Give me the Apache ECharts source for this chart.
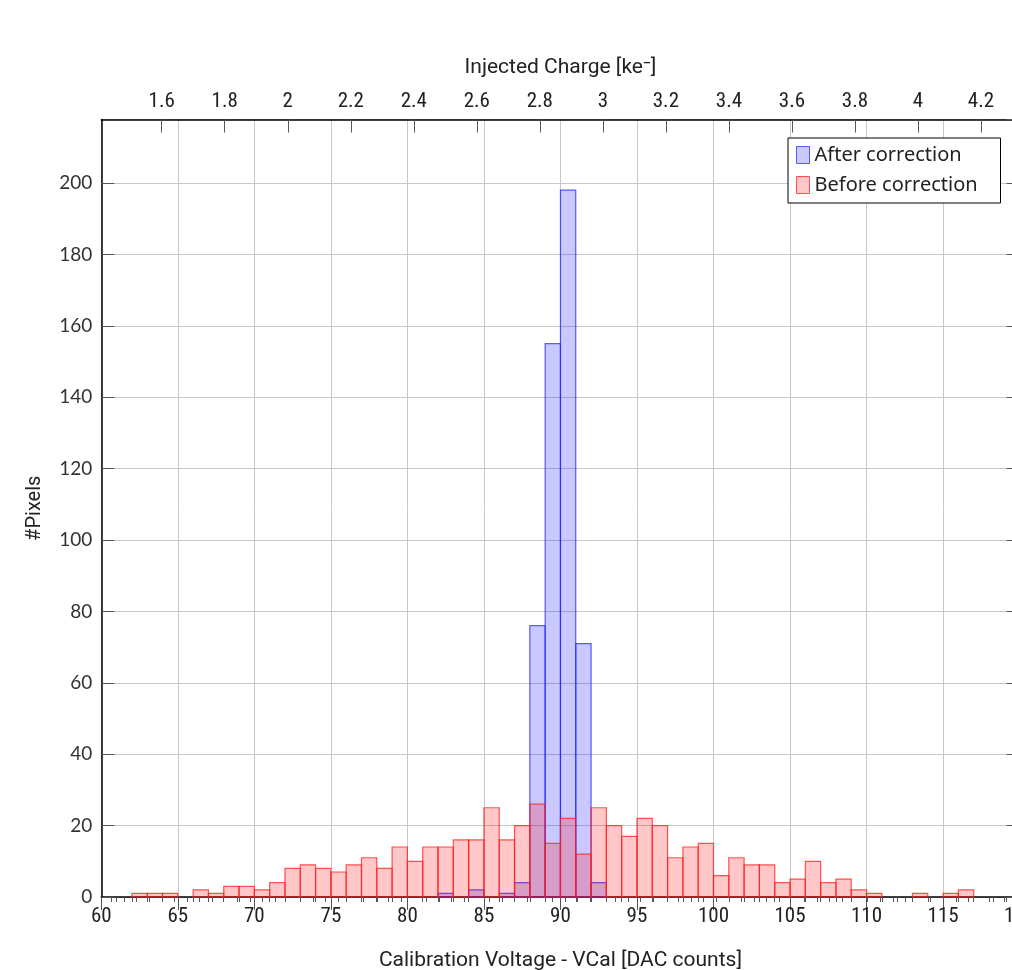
<!DOCTYPE html>
<html>
<head>
<meta charset="utf-8">
<script src="https://cdn.jsdelivr.net/npm/echarts@6/dist/echarts.min.js"></script>
<style>
html,body{margin:0;padding:0;background:#fff;}
#chart{width:1012px;height:970px;}
</style>
</head>
<body>
<div id="chart"></div>
<script>
// ---- data ----
// lower edges of 1-DAC wide bins
const binEdges = [];
for (let v = 60; v < 120; v++) binEdges.push(v);
// counts per bin, bins 60..119
const beforeCounts = [
  0, 0, 1, 1, 1, 0, 2, 1, 3, 3,
  2, 4, 8, 9, 8, 7, 9, 11, 8, 14,
  10, 14, 14, 16, 16, 25, 16, 20, 26, 15,
  22, 12, 25, 20, 17, 22, 20, 11, 14, 15,
  6, 11, 9, 9, 4, 5, 10, 4, 5, 2,
  1, 0, 0, 1, 0, 1, 2, 0, 0, 0
];
const afterCounts = [
  0, 0, 0, 0, 0, 0, 0, 0, 0, 0,
  0, 0, 0, 0, 0, 0, 0, 0, 0, 0,
  0, 0, 1, 0, 2, 0, 1, 4, 76, 155,
  198, 71, 4, 0, 0, 0, 0, 0, 0, 0,
  0, 0, 0, 0, 0, 0, 0, 0, 0, 0,
  0, 0, 0, 0, 0, 0, 0, 0, 0, 0
];
const binWidth = 1;
const vcalRange = [60, 120];
const yRange = [0, 217.8];
// top axis: injected charge, linear in VCal
const chargeRange = [1.4083, 4.3225];
const topTickLabels = [1.6, 1.8, 2, 2.2, 2.4, 2.6, 2.8, 3, 3.2, 3.4, 3.6, 3.8, 4, 4.2];
const seriesNames = ['After correction', 'Before correction'];

// ---- build ----
function toData(counts) {
  const out = [];
  counts.forEach((c, i) => { if (c > 0) out.push([binEdges[i], binEdges[i] + binWidth, c]); });
  return out;
}
const minorTop = [];
for (let k = Math.ceil(chargeRange[0] / 0.04); k * 0.04 < chargeRange[1]; k++) {
  const v = Math.round(k * 4) / 100;
  if (Math.abs(v * 5 - Math.round(v * 5)) > 1e-6) minorTop.push(v);
}

const blueFill = 'rgba(0,0,255,0.21)';
const blueLine = 'rgba(40,40,255,0.75)';
const redFill = 'rgba(255,0,0,0.22)';
const redLine = 'rgba(255,30,30,0.75)';

function makeRender(fill, stroke) {
  return function (params, api) {
    const p0 = api.coord([api.value(0), api.value(2)]);
    const p1 = api.coord([api.value(1), 0]);
    return {
      type: 'rect',
      shape: { x: p0[0], y: p0[1], width: p1[0] - p0[0], height: p1[1] - p0[1] },
      style: { fill: fill, stroke: stroke, lineWidth: 1.2 }
    };
  };
}

const tickFont = "'Liberation Sans Narrow', 'Roboto Condensed', Roboto, sans-serif";
const nameFont = "Roboto, sans-serif";
const chart = echarts.init(document.getElementById('chart'), null, { renderer: 'canvas' });
chart.setOption({
  animation: false,
  backgroundColor: '#fff',
  grid: { left: 101.3, top: 119.5, width: 918.3, height: 777.5, containLabel: false, outerBoundsMode: 'none' },
  legend: {
    left: 788, top: 138,
    orient: 'vertical',
    backgroundColor: '#fff',
    borderColor: '#000', borderWidth: 1,
    padding: [7, 11, 8, 8],
    itemGap: 10,
    itemWidth: 13, itemHeight: 17,
    textStyle: { fontFamily: "'Noto Sans', sans-serif", fontSize: 20, color: '#222', lineHeight: 20, width: 175 },
    data: [
      { name: seriesNames[0], icon: 'rect', itemStyle: { color: blueFill, borderColor: blueLine, borderWidth: 1 } },
      { name: seriesNames[1], icon: 'rect', itemStyle: { color: redFill, borderColor: redLine, borderWidth: 1 } }
    ],
    z: 20
  },
  xAxis: [
    {
      type: 'value', position: 'bottom', min: vcalRange[0], max: vcalRange[1], interval: 5,
      name: 'Calibration Voltage - VCal [DAC counts]', nameLocation: 'middle', nameGap: 53,
      nameTextStyle: { fontFamily: nameFont, fontSize: 21, color: '#222' },
      axisLine: { show: true, onZero: false, lineStyle: { color: '#000', width: 1.5 } },
      axisTick: { show: true, inside: false, length: 13, lineStyle: { color: '#555' } },
      minorTick: { show: true, splitNumber: 5, length: 5, lineStyle: { color: '#555' } },
      axisLabel: { fontFamily: tickFont, fontSize: 21, color: '#222', margin: 9 },
      splitLine: { show: true, lineStyle: { color: '#c8c8c8', width: 1 } }
    },
    {
      type: 'value', position: 'top', min: chargeRange[0], max: chargeRange[1],
      name: 'Injected Charge [ke\u207B]', nameLocation: 'middle', nameGap: 41,
      nameTextStyle: { fontFamily: nameFont, fontSize: 21, color: '#222' },
      axisLine: { show: true, onZero: false, lineStyle: { color: '#000', width: 1.5 } },
      axisTick: { show: true, inside: true, length: 13, customValues: topTickLabels, lineStyle: { color: '#555' } },
      axisLabel: { fontFamily: tickFont, fontSize: 21, color: '#222', margin: 7, customValues: topTickLabels },
      splitLine: { show: false }
    },
    {
      type: 'value', position: 'top', min: chargeRange[0], max: chargeRange[1],
      axisLine: { show: false },
      axisTick: { show: true, inside: true, length: 5, customValues: minorTop, lineStyle: { color: '#555' } },
      axisLabel: { show: false },
      splitLine: { show: false }
    }
  ],
  yAxis: [
    {
      type: 'value', position: 'left', min: yRange[0], max: yRange[1], interval: 20,
      name: '#Pixels', nameLocation: 'middle', nameGap: 56, nameRotate: 90,
      nameTextStyle: { fontFamily: nameFont, fontSize: 20, color: '#222' },
      axisLine: { show: true, onZero: false, lineStyle: { color: '#000', width: 1.5 } },
      axisTick: { show: true, inside: true, length: 13, lineStyle: { color: '#555' } },
      axisLabel: { fontFamily: "Lato, sans-serif", fontSize: 19, color: '#333', margin: 9, showMaxLabel: false },
      splitLine: { show: true, lineStyle: { color: '#c8c8c8', width: 1 } }
    },
    {
      type: 'value', position: 'right', min: yRange[0], max: yRange[1], interval: 20,
      axisLine: { show: true, onZero: false, lineStyle: { color: '#000', width: 1.5 } },
      axisTick: { show: true, inside: true, length: 13, lineStyle: { color: '#555' } },
      axisLabel: { show: false },
      splitLine: { show: false }
    }
  ],
  series: [
    {
      name: seriesNames[0], type: 'custom', xAxisIndex: 0, yAxisIndex: 0,
      itemStyle: { color: blueFill, borderColor: blueLine },
      renderItem: makeRender(blueFill, blueLine),
      encode: { x: [0, 1], y: 2 },
      data: toData(afterCounts), z: 3
    },
    {
      name: seriesNames[1], type: 'custom', xAxisIndex: 0, yAxisIndex: 0,
      itemStyle: { color: redFill, borderColor: redLine },
      renderItem: makeRender(redFill, redLine),
      encode: { x: [0, 1], y: 2 },
      data: toData(beforeCounts), z: 4
    }
  ]
});
</script>
</body>
</html>
